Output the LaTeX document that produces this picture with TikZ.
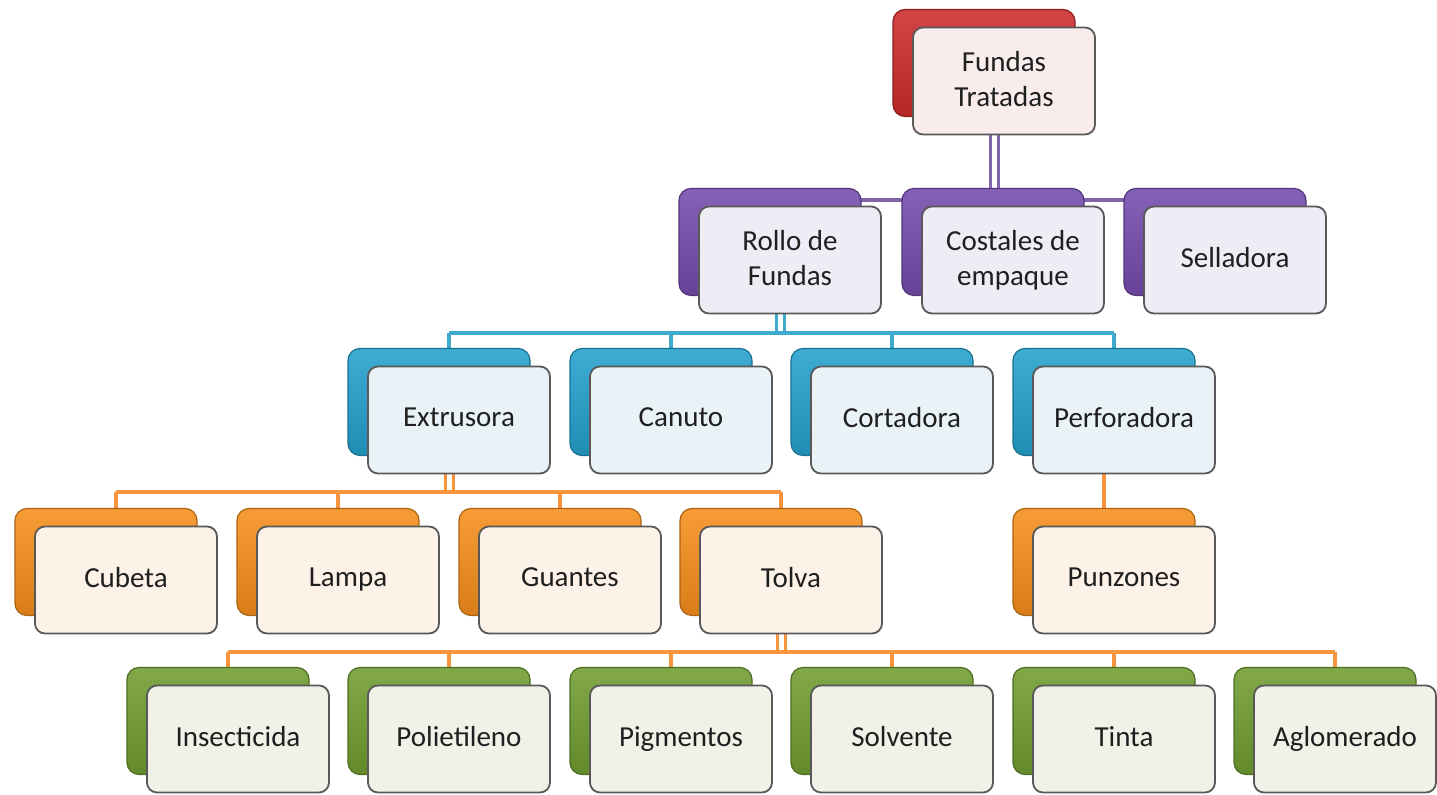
\documentclass[tikz,border=0pt]{standalone}
\usepackage{fontspec}
\setmainfont{Carlito}
\usepackage{tikz}
\usetikzlibrary{backgrounds}

\definecolor{rojo}{RGB}{204,44,44}
\definecolor{rojoF}{RGB}{248,236,236}
\definecolor{morado}{RGB}{116,76,172}
\definecolor{moradoF}{RGB}{238,236,244}
\definecolor{azul}{RGB}{36,160,204}
\definecolor{azulF}{RGB}{233,243,247}
\definecolor{naranja}{RGB}{246,142,28}
\definecolor{naranjaF}{RGB}{252,242,232}
\definecolor{verde}{RGB}{112,156,48}
\definecolor{verdeF}{RGB}{241,241,232}
\definecolor{lineaM}{RGB}{128,100,170}
\definecolor{lineaA}{RGB}{62,170,204}
\definecolor{lineaN}{RGB}{247,148,62}

\begin{document}
\begin{tikzpicture}[x=0.5pt,y=-0.5pt,
		boxback/.style={draw=#1!70!black,line width=0.6pt,top color=#1!88!white,bottom color=#1!88!black,
			rounded corners=6pt,minimum width=91pt,minimum height=53.5pt,inner sep=0pt},
		boxfront/.style={draw=black!65,line width=0.9pt,fill=#1,rounded corners=5pt,
			minimum width=91pt,minimum height=53.5pt,inner sep=0pt,align=center,
			text=black!88,font=\fontsize{14.5}{17.5}\selectfont,
			execute at begin node=\vphantom{Ag},execute at end node=\vphantom{Ag}},
		trunk/.style={draw=#1,line width=1.5pt,double=white,double distance=2.5pt},
		bus/.style={draw=#1,line width=1.8pt}]
		\useasboundingbox (0,0) rectangle (1437,795);
		
		% bus heights
		\coordinate (bus2) at (0,200);
		\coordinate (bus3) at (0,333);
		\coordinate (bus4) at (0,492);
		\coordinate (bus5) at (0,652);
		
		% top
		\node[boxback=rojo] (top-b) at (984,63) {};
		\node[boxfront=rojoF] (top) at (1004,81) {Fundas\\Tratadas};
		\coordinate (top-c) at (994,72);
		
		% level 2
		\foreach \n/\x/\t in {rollo/780/{Rollo de\\Fundas},costa/1003/{Costales de\\empaque},sella/1225/Selladora}{
			\node[boxback=morado] (\n-b) at (\x-10,242) {};
			\node[boxfront=moradoF] (\n) at (\x+10,260) {\t};
			\coordinate (\n-c) at (\x,251);
		}
		
		% level 3
		\foreach \n/\x/\t in {extru/449/Extrusora,canut/671/Canuto,corta/892/Cortadora,perfo/1114/Perforadora}{
			\node[boxback=azul] (\n-b) at (\x-10,402) {};
			\node[boxfront=azulF] (\n) at (\x+10,420) {\t};
			\coordinate (\n-c) at (\x,411);
		}
		
		% level 4
		\foreach \n/\x/\t in {cubet/116/Cubeta,lampa/338/Lampa,guant/560/Guantes,tolva/781/Tolva,punzo/1114/Punzones}{
			\node[boxback=naranja] (\n-b) at (\x-10,562) {};
			\node[boxfront=naranjaF] (\n) at (\x+10,580) {\t};
			\coordinate (\n-c) at (\x,571);
		}
		
		% level 5
		\foreach \n/\x/\t in {insec/228/Insecticida,polie/449/Polietileno,pigme/671/Pigmentos,solve/892/Solvente,tinta/1114/Tinta,aglom/1335/Aglomerado}{
			\node[boxback=verde] (\n-b) at (\x-10,721) {};
			\node[boxfront=verdeF] (\n) at (\x+10,739) {\t};
			\coordinate (\n-c) at (\x,730);
		}
		
		% connectors, behind the boxes
		\begin{scope}[on background layer]
			\draw[trunk=lineaM] (top-c) -- (top-c |- bus2);
			\draw[bus=lineaM] (rollo-c |- bus2) -- (sella-c |- bus2);
			\foreach \n in {rollo,costa,sella} \draw[bus=lineaM] (\n-c |- bus2) -- (\n-c);
			
			\draw[trunk=lineaA] (rollo-c) -- (rollo-c |- bus3);
			\draw[bus=lineaA] (extru-c |- bus3) -- (perfo-c |- bus3);
			\foreach \n in {extru,canut,corta,perfo} \draw[bus=lineaA] (\n-c |- bus3) -- (\n-c);
			
			\draw[trunk=lineaN] (extru-c) -- (extru-c |- bus4);
			\draw[bus=lineaN] (cubet-c |- bus4) -- (tolva-c |- bus4);
			\foreach \n in {cubet,lampa,guant,tolva} \draw[bus=lineaN] (\n-c |- bus4) -- (\n-c);
			\draw[bus=lineaN] (perfo-b) -- (punzo-b);
			
			\draw[trunk=lineaN] (tolva-c) -- (tolva-c |- bus5);
			\draw[bus=lineaN] (insec-c |- bus5) -- (aglom-c |- bus5);
			\foreach \n in {insec,polie,pigme,solve,tinta,aglom} \draw[bus=lineaN] (\n-c |- bus5) -- (\n-c);
		\end{scope}
\end{tikzpicture}
\end{document}
